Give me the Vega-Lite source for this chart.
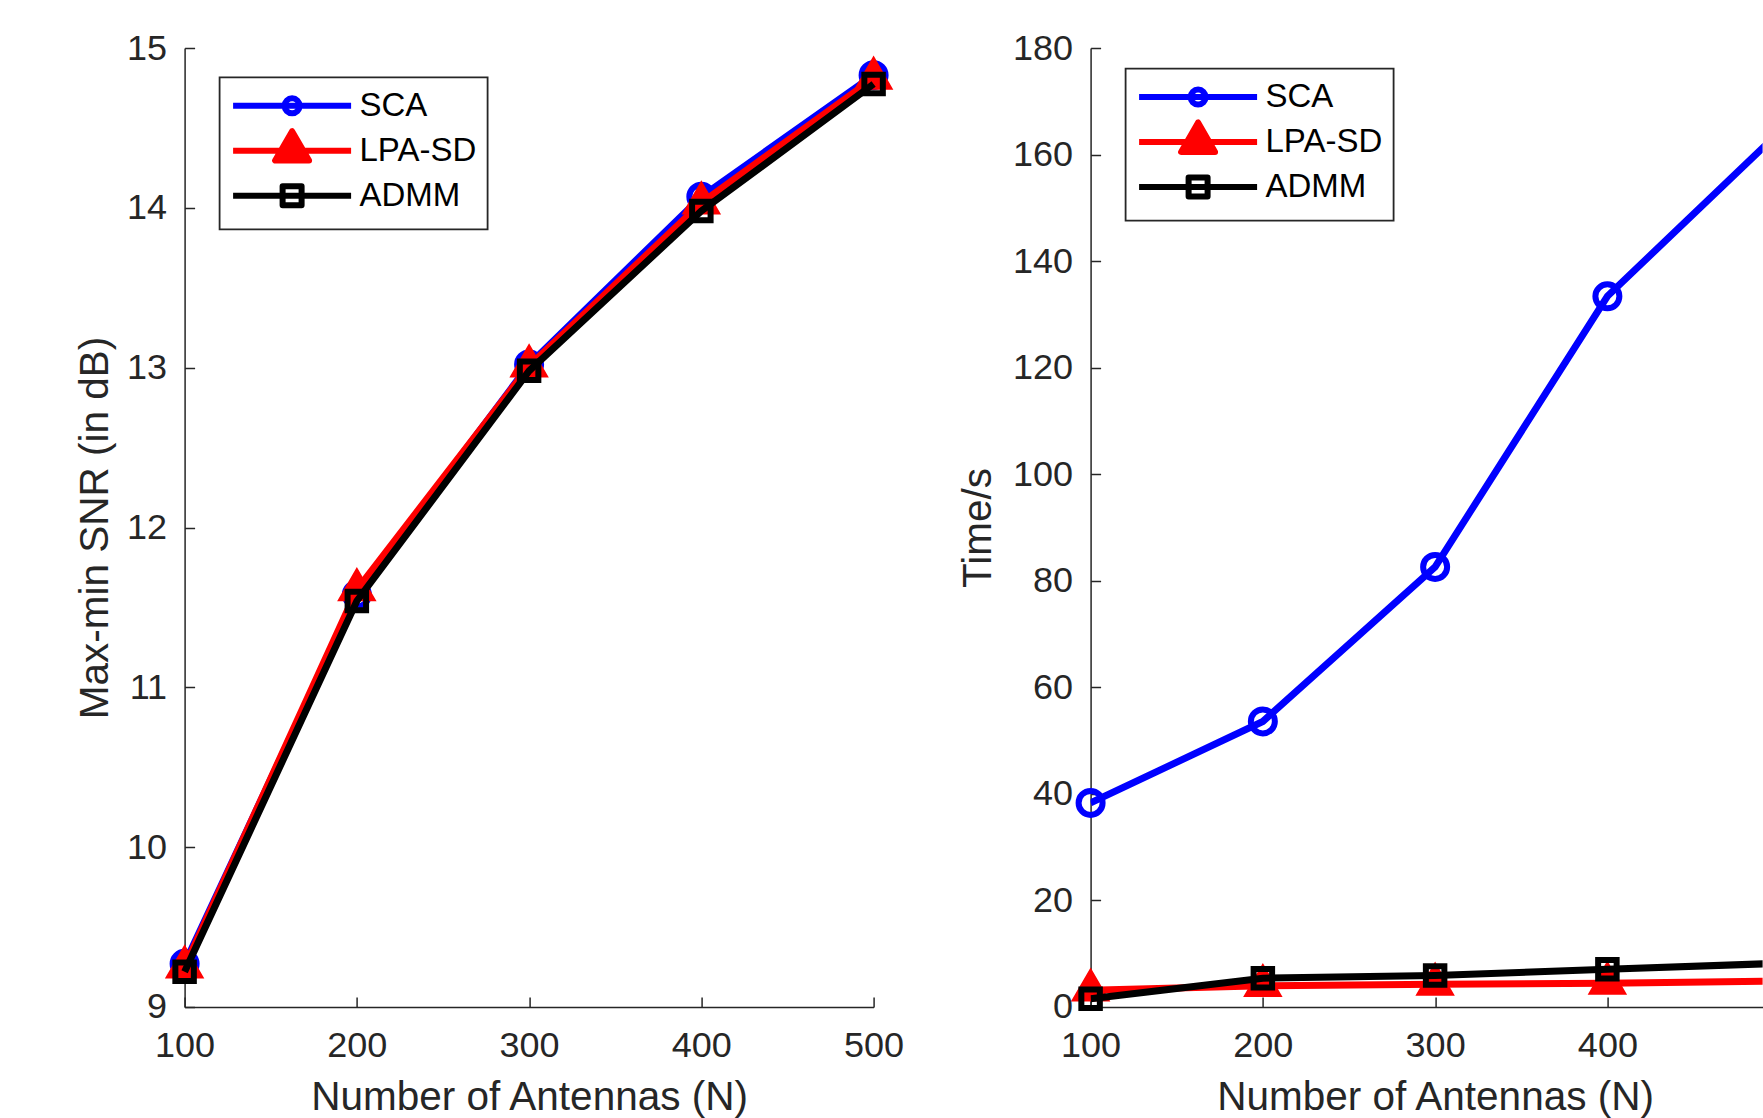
{
  "$schema": "https://vega.github.io/schema/vega-lite/v6.json",
  "autosize": {"type": "pad"},
  "padding": {"left": 75.6, "top": 30, "right": 0, "bottom": 0},
  "background": "white",
  "config": {
    "font": "Liberation Sans",
    "view": {"stroke": null},
    "axis": {
      "labelFont": "Liberation Sans", "labelFontSize": 36, "labelColor": "#262626",
      "titleFont": "Liberation Sans", "titleFontSize": 40.5, "titleFontWeight": "normal", "titleColor": "#262626",
      "domainColor": "#262626", "domainWidth": 1.5, "tickColor": "#262626", "tickWidth": 1.5, "tickSize": -10,
      "grid": false, "labelFlush": false, "labelOverlap": false, "labelBound": false
    },
    "legend": {
      "orient": "none", "padding": 10.5, "strokeColor": "#262626", "fillColor": "white",
      "labelFont": "Liberation Sans", "labelFontSize": 33, "labelColor": "#000000", "labelOffset": 49.4,
      "labelExpr": "datum.label + '\u00a0\u00a0'",
      "symbolSize": 900, "symbolStrokeWidth": 6, "symbolOffset": 44, "rowPadding": -1
    }
  },
  "datasets": {
    "snr": [
      {"N": 100, "method": "SCA", "value": 9.27},
      {"N": 200, "method": "SCA", "value": 11.58},
      {"N": 300, "method": "SCA", "value": 13.02},
      {"N": 400, "method": "SCA", "value": 14.07},
      {"N": 500, "method": "SCA", "value": 14.83},
      {"N": 100, "method": "LPA-SD", "value": 9.25},
      {"N": 200, "method": "LPA-SD", "value": 11.61},
      {"N": 300, "method": "LPA-SD", "value": 13.01},
      {"N": 400, "method": "LPA-SD", "value": 14.03},
      {"N": 500, "method": "LPA-SD", "value": 14.81},
      {"N": 100, "method": "ADMM", "value": 9.22},
      {"N": 200, "method": "ADMM", "value": 11.54},
      {"N": 300, "method": "ADMM", "value": 12.98},
      {"N": 400, "method": "ADMM", "value": 13.98},
      {"N": 500, "method": "ADMM", "value": 14.775}
    ],
    "time": [
      {"N": 100, "method": "SCA", "value": 38.3},
      {"N": 200, "method": "SCA", "value": 53.6},
      {"N": 300, "method": "SCA", "value": 82.6},
      {"N": 400, "method": "SCA", "value": 133.4},
      {"N": 500, "method": "SCA", "value": 164.3},
      {"N": 100, "method": "LPA-SD", "value": 3.15},
      {"N": 200, "method": "LPA-SD", "value": 4.0},
      {"N": 300, "method": "LPA-SD", "value": 4.27},
      {"N": 400, "method": "LPA-SD", "value": 4.44},
      {"N": 500, "method": "LPA-SD", "value": 4.9},
      {"N": 100, "method": "ADMM", "value": 1.56},
      {"N": 200, "method": "ADMM", "value": 5.4},
      {"N": 300, "method": "ADMM", "value": 5.9},
      {"N": 400, "method": "ADMM", "value": 7.1},
      {"N": 500, "method": "ADMM", "value": 8.2}
    ]
  },
  "bounds": "flush",
  "spacing": 217,
  "resolve": {"scale": {"color": "independent"}, "legend": {"color": "independent"}},
  "hconcat": [
    {
      "width": 689,
      "height": 959,
      "data": {"name": "snr"},
      "encoding": {
        "x": {"field": "N", "type": "quantitative",
          "scale": {"domain": [100, 500], "nice": false, "zero": false},
          "axis": {"values": [100, 200, 300, 400, 500], "title": "Number of Antennas (N)", "labelPadding": 32,
            "titleX": 344.5, "titleY": 103, "titleBaseline": "alphabetic", "titleAlign": "center"}},
        "y": {"field": "value", "type": "quantitative",
          "scale": {"domain": [9, 15], "nice": false, "zero": false},
          "axis": {"values": [9, 10, 11, 12, 13, 14, 15], "title": "Max-min SNR (in dB)", "labelPadding": 28,
            "titleX": -77, "titleY": 479.5, "titleAngle": -90, "titleBaseline": "alphabetic", "titleAlign": "center"}}
      },
      "layer": [
        {"transform": [{"filter": "datum.method === 'SCA'"}],
         "mark": {"type": "line", "strokeWidth": 7},
         "encoding": {"color": {"field": "method", "type": "nominal",
           "scale": {"domain": ["SCA", "LPA-SD", "ADMM"], "range": ["#0000ff", "#ff0000", "#000000"]},
           "legend": {"title": null, "legendX": 35, "legendY": 29.3,
             "encode": {
               "legend": {"update": {"strokeWidth": {"value": 1.8}}},
               "symbols": {"update": {
                 "shape": {"signal": "datum.value === 'SCA' ? 'M-4.167,0L-4.167,0M0,-1.333L0,-1.333M0,1.333L0,1.333M-3.933,0H3.933M0.5,0C0.5,0.276,0.276,0.5,0,0.5C-0.276,0.5,-0.5,0.276,-0.5,0C-0.5,-0.276,-0.276,-0.5,0,-0.5C0.276,-0.5,0.5,-0.276,0.5,0Z' : datum.value === 'LPA-SD' ? 'M-4.167,0L-4.167,0M0,-1.333L0,-1.333M0,1.333L0,1.333M-3.933,0H3.933M0,-1.309L-1.133,0.654L1.133,0.654Z' : 'M-4.167,0L-4.167,0M0,-1.333L0,-1.333M0,1.333L0,1.333M-3.933,0H3.933M-0.633,-0.633H0.633V0.633H-0.633Z'"},
                 "fill": {"signal": "datum.value === 'LPA-SD' ? '#ff0000' : 'transparent'"},
                 "strokeWidth": {"value": 6},
                 "strokeJoin": {"value": "round"},
                 "opacity": {"value": 1}
               }}
             }}}}},
        {"transform": [{"filter": "datum.method === 'SCA'"}],
         "mark": {"type": "point", "shape": "circle", "size": 576, "filled": false, "stroke": "#0000ff", "strokeWidth": 6, "opacity": 1}},
        {"transform": [{"filter": "datum.method === 'LPA-SD'"}],
         "mark": {"type": "line", "strokeWidth": 7},
         "encoding": {"color": {"field": "method", "type": "nominal"}}},
        {"transform": [{"filter": "datum.method === 'LPA-SD'"}],
         "mark": {"type": "point", "shape": "M0,-1.155L-1,0.577L1,0.577Z", "size": 1296, "filled": true, "fill": "#ff0000", "stroke": "#ff0000", "strokeWidth": 2, "opacity": 1}},
        {"transform": [{"filter": "datum.method === 'ADMM'"}],
         "mark": {"type": "line", "strokeWidth": 7},
         "encoding": {"color": {"field": "method", "type": "nominal"}}},
        {"transform": [{"filter": "datum.method === 'ADMM'"}],
         "mark": {"type": "point", "shape": "square", "size": 342, "filled": false, "stroke": "#000000", "strokeWidth": 6, "opacity": 1}}
      ]
    },
    {
      "width": 672,
      "height": 959,
      "data": {"name": "time"},
      "encoding": {
        "x": {"field": "N", "type": "quantitative",
          "scale": {"domain": [100, 490.1], "nice": false, "zero": false},
          "axis": {"values": [100, 200, 300, 400], "title": "Number of Antennas (N)", "labelPadding": 32,
            "titleX": 344.5, "titleY": 103, "titleBaseline": "alphabetic", "titleAlign": "center"}},
        "y": {"field": "value", "type": "quantitative",
          "scale": {"domain": [0, 180], "nice": false, "zero": false},
          "axis": {"values": [0, 20, 40, 60, 80, 100, 120, 140, 160, 180], "title": "Time/s", "labelPadding": 28,
            "titleX": -100, "titleY": 479.5, "titleAngle": -90, "titleBaseline": "alphabetic", "titleAlign": "center"}}
      },
      "layer": [
        {"transform": [{"filter": "datum.method === 'SCA'"}],
         "mark": {"type": "line", "strokeWidth": 7, "clip": true},
         "encoding": {"color": {"field": "method", "type": "nominal",
           "scale": {"domain": ["SCA", "LPA-SD", "ADMM"], "range": ["#0000ff", "#ff0000", "#000000"]},
           "legend": {"title": null, "legendX": 35, "legendY": 20.6,
             "encode": {
               "legend": {"update": {"strokeWidth": {"value": 1.8}}},
               "symbols": {"update": {
                 "shape": {"signal": "datum.value === 'SCA' ? 'M-4.167,0L-4.167,0M0,-1.333L0,-1.333M0,1.333L0,1.333M-3.933,0H3.933M0.5,0C0.5,0.276,0.276,0.5,0,0.5C-0.276,0.5,-0.5,0.276,-0.5,0C-0.5,-0.276,-0.276,-0.5,0,-0.5C0.276,-0.5,0.5,-0.276,0.5,0Z' : datum.value === 'LPA-SD' ? 'M-4.167,0L-4.167,0M0,-1.333L0,-1.333M0,1.333L0,1.333M-3.933,0H3.933M0,-1.309L-1.133,0.654L1.133,0.654Z' : 'M-4.167,0L-4.167,0M0,-1.333L0,-1.333M0,1.333L0,1.333M-3.933,0H3.933M-0.633,-0.633H0.633V0.633H-0.633Z'"},
                 "fill": {"signal": "datum.value === 'LPA-SD' ? '#ff0000' : 'transparent'"},
                 "strokeWidth": {"value": 6},
                 "strokeJoin": {"value": "round"},
                 "opacity": {"value": 1}
               }}
             }}}}},
        {"transform": [{"filter": "datum.method === 'SCA' && datum.N < 490"}],
         "mark": {"type": "point", "shape": "circle", "size": 576, "filled": false, "stroke": "#0000ff", "strokeWidth": 6, "opacity": 1}},
        {"transform": [{"filter": "datum.method === 'LPA-SD'"}],
         "mark": {"type": "line", "strokeWidth": 7, "clip": true},
         "encoding": {"color": {"field": "method", "type": "nominal"}}},
        {"transform": [{"filter": "datum.method === 'LPA-SD' && datum.N < 490"}],
         "mark": {"type": "point", "shape": "M0,-1.155L-1,0.577L1,0.577Z", "size": 1296, "filled": true, "fill": "#ff0000", "stroke": "#ff0000", "strokeWidth": 2, "opacity": 1}},
        {"transform": [{"filter": "datum.method === 'ADMM'"}],
         "mark": {"type": "line", "strokeWidth": 7, "clip": true},
         "encoding": {"color": {"field": "method", "type": "nominal"}}},
        {"transform": [{"filter": "datum.method === 'ADMM' && datum.N < 490"}],
         "mark": {"type": "point", "shape": "square", "size": 342, "filled": false, "stroke": "#000000", "strokeWidth": 6, "opacity": 1}}
      ]
    }
  ]
}
